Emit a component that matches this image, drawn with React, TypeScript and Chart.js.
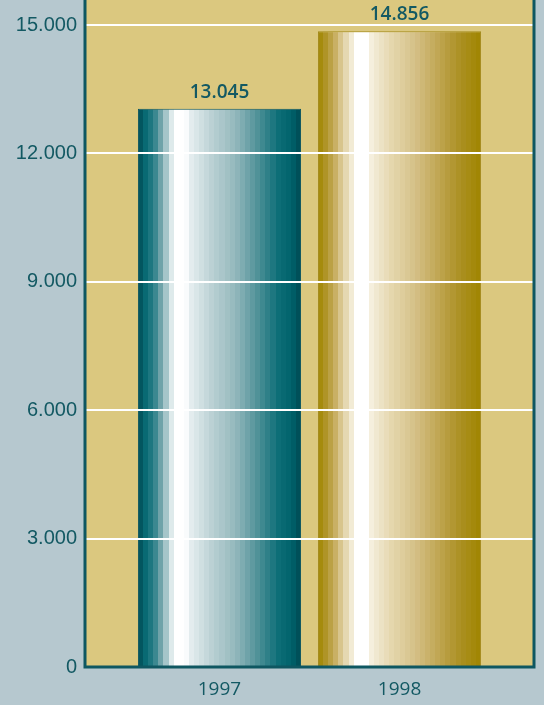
import React, { useEffect, useRef } from "react";
import { Chart, registerables } from "chart.js";

Chart.register(...registerables);

// ---- data ----
const years: number[] = [1997, 1998];
const values: number[] = [13045, 14856];
const yTickValues: number[] = [0, 3000, 6000, 9000, 12000, 15000];
const yAxisMax = 15584;
const xAxisMin = 1996.253;
const xAxisMax = 1998.747;

// ---- style ----
const TEAL_TEXT = "#135963";
const AXIS_LINE = "#0e5761";
const BG_OUTER = "#b6c8cf";
const BG_PLOT = "#dbc87f";

const tealStops: [number, string][] = [
  [0, "#004c55"],
  [0.05, "#0a6c75"],
  [0.1, "#2b8088"],
  [0.14, "#6ea2a8"],
  [0.19, "#c4d9dc"],
  [0.22, "#ffffff"],
  [0.29, "#ffffff"],
  [0.32, "#e6eef0"],
  [0.45, "#bcd2d5"],
  [0.6, "#92b7bb"],
  [0.74, "#4d9097"],
  [0.86, "#0d6e77"],
  [0.94, "#00626b"],
  [1, "#004a53"],
];
const goldStops: [number, string][] = [
  [0, "#a08600"],
  [0.05, "#b0952a"],
  [0.1, "#c4aa58"],
  [0.15, "#dccb98"],
  [0.2, "#f1e9d0"],
  [0.23, "#ffffff"],
  [0.3, "#ffffff"],
  [0.33, "#f4eedb"],
  [0.45, "#e5d7ae"],
  [0.6, "#d4bf85"],
  [0.74, "#c0a653"],
  [0.87, "#ab9022"],
  [1, "#a08500"],
];

const fmt = (v: number) => String(Math.round(v)).replace(/\B(?=(\d{3})+(?!\d))/g, ".");

function hexToRgb(h: string) {
  const n = parseInt(h.slice(1), 16);
  return [(n >> 16) & 255, (n >> 8) & 255, n & 255];
}
function sample(stops: [number, string][], t: number) {
  for (let i = 0; i < stops.length - 1; i++) {
    const [t0, c0] = stops[i];
    const [t1, c1] = stops[i + 1];
    if (t >= t0 && t <= t1) {
      const f = t1 === t0 ? 0 : (t - t0) / (t1 - t0);
      const a = hexToRgb(c0);
      const b = hexToRgb(c1);
      const r = a.map((v, k) => Math.round(v + (b[k] - v) * f));
      return `rgb(${r[0]},${r[1]},${r[2]})`;
    }
  }
  return stops[stops.length - 1][1];
}
function bandGradient(ctx: CanvasRenderingContext2D, left: number, width: number, stops: [number, string][], bands = 32) {
  const g = ctx.createLinearGradient(left, 0, left + width, 0);
  for (let i = 0; i < bands; i++) {
    const t0 = i / bands;
    const t1 = (i + 1) / bands;
    const c = sample(stops, (t0 + t1) / 2);
    g.addColorStop(t0, c);
    g.addColorStop(t1, c);
  }
  return g;
}

const BAR_PCT = 0.906;

const decorPlugin = {
  id: "decor",
  beforeDraw(chart: any) {
    const { ctx, chartArea: a, width, height } = chart;
    ctx.save();
    ctx.fillStyle = BG_OUTER;
    ctx.fillRect(0, 0, width, height);
    ctx.fillStyle = BG_PLOT;
    ctx.fillRect(a.left, a.top, a.right - a.left, a.bottom - a.top);
    ctx.restore();
  },
  afterDraw(chart: any) {
    const { ctx, chartArea: a } = chart;
    ctx.save();
    ctx.strokeStyle = AXIS_LINE;
    ctx.lineWidth = 3;
    ctx.beginPath();
    ctx.moveTo(a.left, a.top);
    ctx.lineTo(a.left, a.bottom);
    ctx.lineTo(a.right, a.bottom);
    ctx.lineTo(a.right, a.top);
    ctx.stroke();
    // value labels
    const meta = chart.getDatasetMeta(0);
    ctx.fillStyle = TEAL_TEXT;
    ctx.font = "600 19px 'Open Sans'";
    ctx.textAlign = "center";
    ctx.textBaseline = "alphabetic";
    meta.data.forEach((bar: any, i: number) => {
      ctx.fillText(fmt(values[i]), bar.x, bar.y - 11);
    });
    ctx.restore();
  },
};

export default function App() {
  const ref = useRef<HTMLCanvasElement | null>(null);
  useEffect(() => {
    if (!ref.current) return;
    const chart = new Chart(ref.current, {
      type: "bar",
      data: {
        datasets: [
          {
            data: years.map((y, i) => ({ x: y, y: values[i] })),
            backgroundColor: (c: any) => {
              const fallback = c.dataIndex === 0 ? "#5e9aa0" : "#cdb560";
              const ch = c.chart;
              const xs = ch.scales?.x;
              if (!xs || c.dataIndex == null) return fallback;
              const p0 = xs.getPixelForValue(years[0]);
              const p1 = xs.getPixelForValue(years[1]);
              const cx = xs.getPixelForValue(years[c.dataIndex]);
              const unit = Math.abs(p1 - p0);
              const w = unit * BAR_PCT;
              if (!isFinite(cx) || !isFinite(w) || w <= 0) return fallback;
              return bandGradient(ch.ctx, cx - w / 2, w, c.dataIndex === 0 ? tealStops : goldStops);
            },
            borderColor: (c: any) => (c.dataIndex === 0 ? "#0c5660" : "#a38a1c"),
            borderWidth: 1,
            categoryPercentage: 1,
            barPercentage: BAR_PCT,
          } as any,
        ],
      },
      options: {
        animation: false,
        responsive: false,
        layout: { padding: { top: 0, right: 10, bottom: 0, left: 0 } },
        plugins: { legend: { display: false }, tooltip: { enabled: false } },
        scales: {
          x: {
            type: "linear",
            offset: false,
            min: xAxisMin,
            max: xAxisMax,
            bounds: "data",
            afterDataLimits: (s: any) => {
              s.min = xAxisMin;
              s.max = xAxisMax;
            },
            afterBuildTicks: (s: any) => {
              s.ticks = years.map((v) => ({ value: v }));
              s.min = xAxisMin;
              s.max = xAxisMax;
            },
            afterFit: (s: any) => {
              s.height = 38;
              s.paddingLeft = 0;
              s.paddingRight = 0;
            },
            grid: { display: false, drawTicks: false, offset: false },
            border: { display: false },
            ticks: {
              padding: 11,
              color: TEAL_TEXT,
              font: { family: "'Open Sans'", size: 19 },
              callback: (v: any) => String(v),
              maxRotation: 0,
              autoSkip: false,
            },
          },
          y: {
            min: 0,
            max: yAxisMax,
            afterBuildTicks: (s: any) => {
              s.ticks = yTickValues.map((v) => ({ value: v }));
            },
            afterFit: (s: any) => {
              s.width = 85;
              s.paddingTop = 0;
              s.paddingBottom = 0;
            },
            grid: { color: "#ffffff", lineWidth: 2, drawTicks: false, z: 1 } as any,
            border: { display: false },
            ticks: {
              padding: 8,
              color: TEAL_TEXT,
              font: { family: "'Liberation Sans'", size: 20 },
              callback: (v: any) => fmt(Number(v)),
            },
          },
        },
      },
      plugins: [decorPlugin],
    } as any);
    return () => chart.destroy();
  }, []);
  return (
    <div style={{ position: "fixed", left: 0, top: 0, width: 544, height: 705, overflow: "hidden" }}>
      <canvas ref={ref} width={544} height={705} style={{ display: "block", width: 544, height: 705 }} />
    </div>
  );
}
